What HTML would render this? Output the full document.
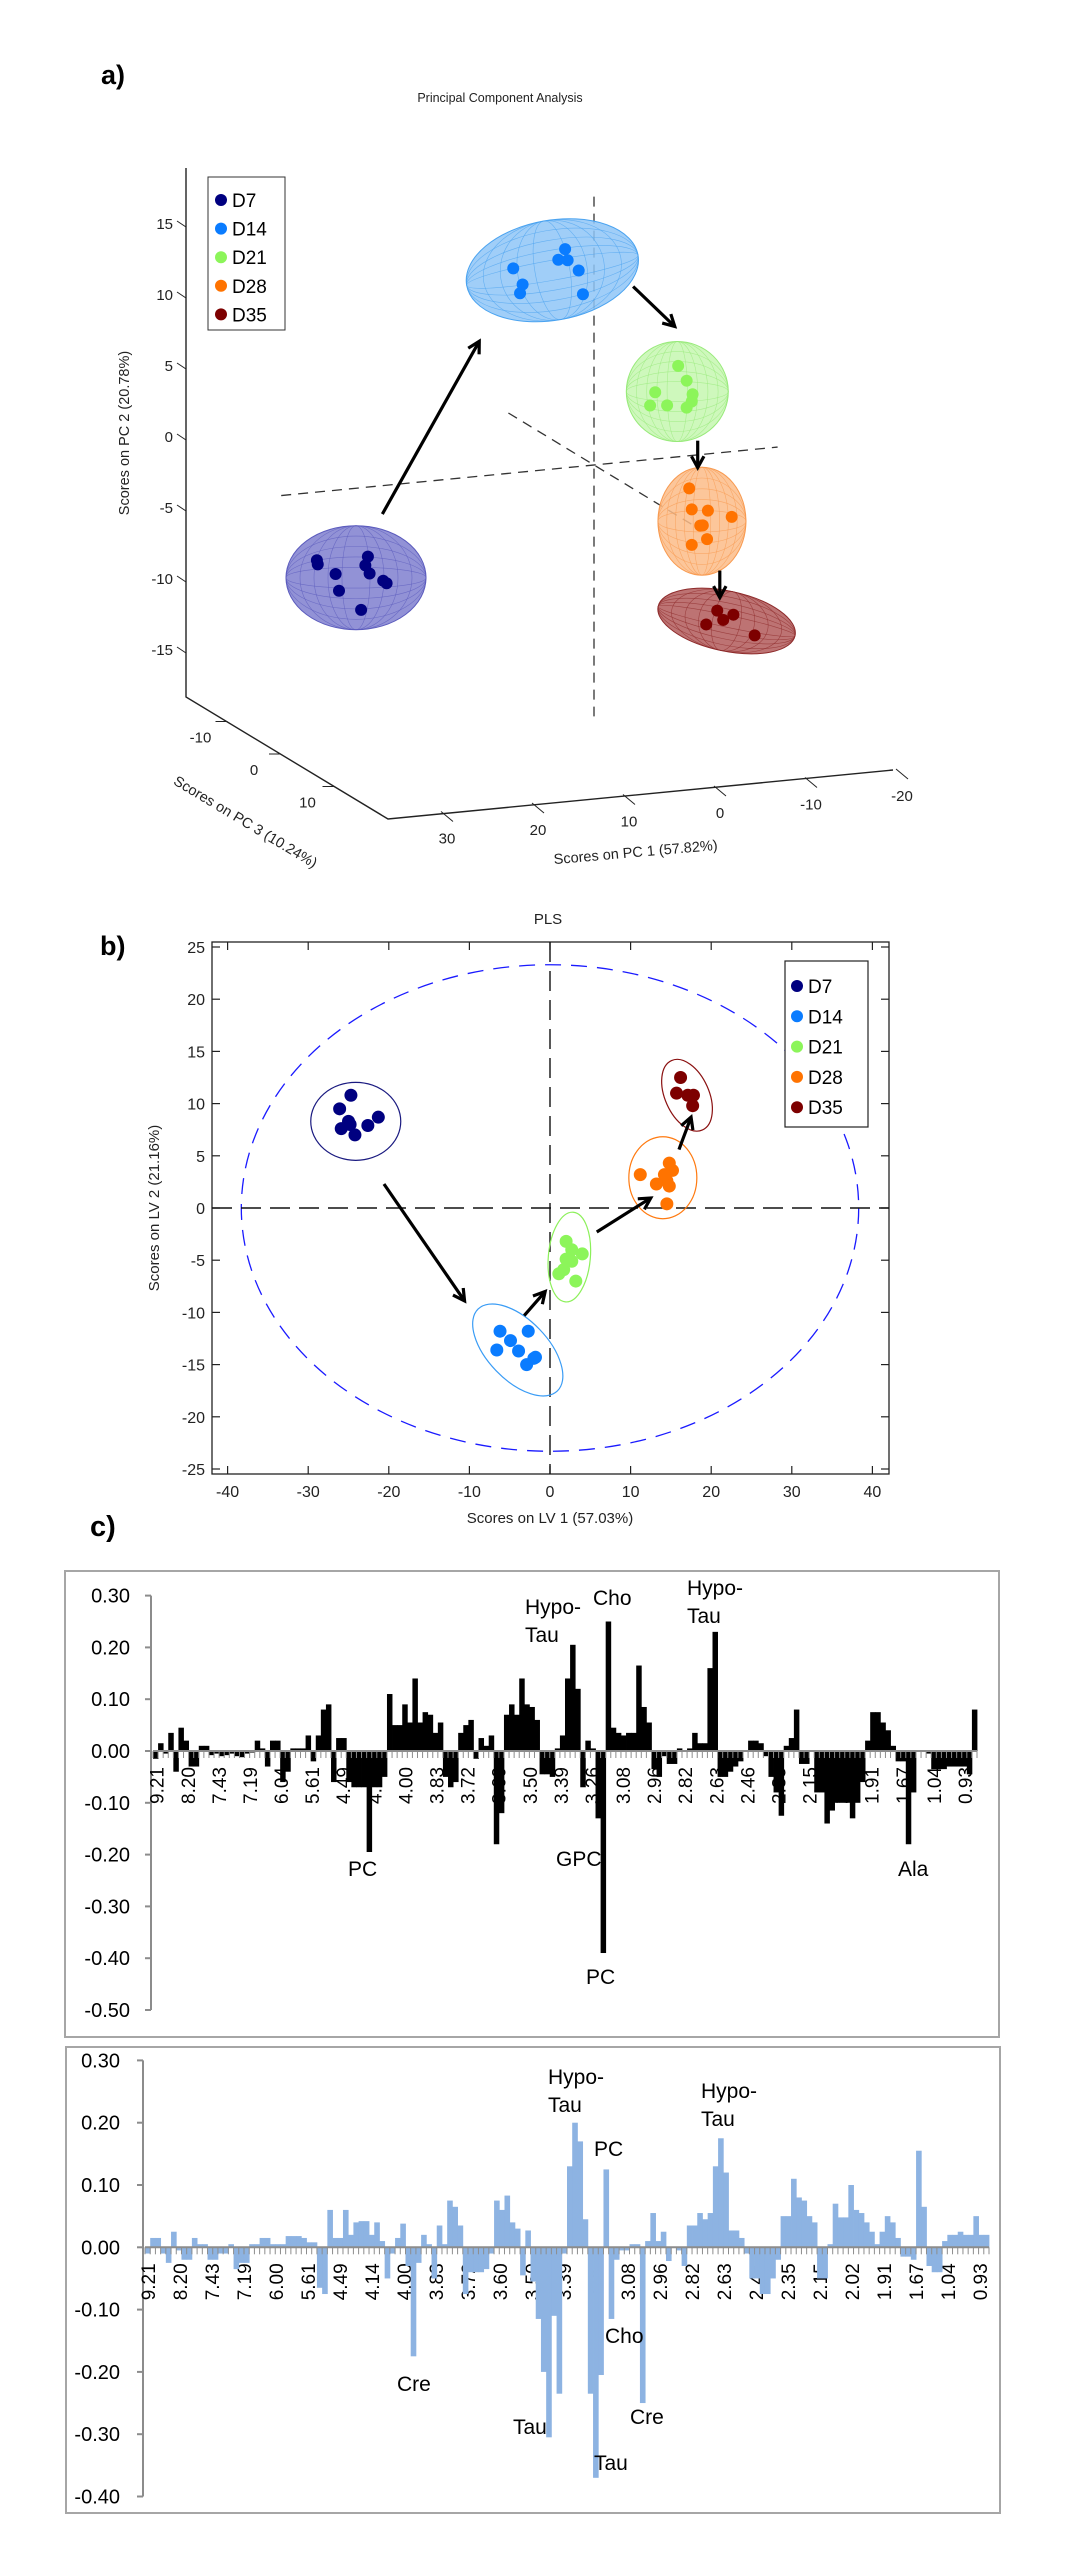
<!DOCTYPE html>
<html><head><meta charset="utf-8"><style>
html,body{margin:0;padding:0;background:#fff;}
svg{display:block;}
text{font-family:"Liberation Sans",Arial,sans-serif;}
</style></head><body>
<svg id="fig" xmlns="http://www.w3.org/2000/svg" width="1070" height="2553" viewBox="0 0 1070 2553">
<g id="pa"></g>
<g id="pb"></g>
<g id="pc"></g>
</svg>
<script>
// ---------- Panel a data (PC1, PC2 scores) ----------
const groups = ["D7","D14","D21","D28","D35"];
const groupColors = ["#000080","#0a7cff","#8cf55a","#ff7300","#7d0000"];
const pcaD7x  = [32.6,26.6,32.5,30.4,30.0,26.9,26.4,24.8,24.4,27.4];
const pcaD7y  = [-4.8,-4.9,-5.1,-5.9,-7.1,-5.5,-6.1,-6.7,-6.9,-8.6];
const pcaD14x = [9.5,8.4,8.7,3.4,4.2,3.1,1.8,1.3];
const pcaD14y = [14.4,13.2,12.6,15.4,14.7,14.6,13.8,12.1];
const pcaD21x = [-9.9,-10.9,-11.6,-11.5,-10.9,-7.2,-6.6,-8.6];
const pcaD21y = [6.4,5.3,4.3,3.8,3.4,4.7,3.8,3.7];
const pcaD28x = [-11.2,-11.5,-13.4,-16.2,-12.5,-13.3,-11.5,-12.8];
const pcaD28y = [-2.3,-3.8,-4.0,-4.6,-5.0,-6.0,-6.3,-5.0];
const pcaD35x = [-14.5,-15.2,-16.4,-13.2,-18.9];
const pcaD35y = [-11.1,-11.8,-11.5,-12.0,-13.1];
const pcaCentX = [28,4.9,-9.8,-12.7,-15.6];
const pcaCentY = [-6.3,14.0,4.6,-4.7,-11.9];
const pcaYTicks = [15,10,5,0,-5,-10,-15];
const pcaXTicks = [30,20,10,0,-10,-20];
const pcaZTicks = [-10,0,10];

// ---------- Panel b data (LV1, LV2 scores) ----------
const plsD7x  = [-24.7,-26.1,-25.0,-25.9,-24.2,-22.6,-21.3,-24.8];
const plsD7y  = [10.8,9.5,8.3,7.6,7.0,7.9,8.7,8.0];
const plsD14x = [-6.2,-2.7,-4.9,-3.9,-6.6,-2.0,-2.9,-1.8];
const plsD14y = [-11.8,-11.8,-12.7,-13.7,-13.6,-14.4,-15.0,-14.3];
const plsD21x = [2.0,2.7,4.0,2.0,1.7,1.1,3.2,2.7];
const plsD21y = [-3.2,-4.0,-4.4,-4.9,-5.9,-6.3,-7.0,-5.1];
const plsD28x = [11.2,14.8,15.2,14.5,13.2,14.8,14.5,14.2];
const plsD28y = [3.2,4.3,3.6,2.6,2.3,2.1,0.4,3.2];
const plsD35x = [16.2,15.7,17.1,17.8,17.7];
const plsD35y = [12.5,11.0,10.8,10.8,9.8];
const plsCentX = [-24.1,-4.0,2.4,14.0,17.0];
const plsCentY = [8.3,-13.6,-4.7,2.9,10.8];
const plsXTicks = [-40,-30,-20,-10,0,10,20,30,40];
const plsYTicks = [25,20,15,10,5,0,-5,-10,-15,-20,-25];

// ---------- Panel c data (loadings) ----------
const ppmLabelsTop = ["9.21","8.20","7.43","7.19","6.04","5.61","4.49","4.14","4.00","3.83","3.72","3.60","3.50","3.39","3.26","3.08","2.96","2.82","2.63","2.46","2.35","2.15","2.02","1.91","1.67","1.04","0.93"];
const ppmLabelsBot = ["9.21","8.20","7.43","7.19","6.00","5.61","4.49","4.14","4.00","3.83","3.72","3.60","3.50","3.39","3.26","3.08","2.96","2.82","2.63","2.46","2.35","2.15","2.02","1.91","1.67","1.04","0.93"];
const loadTopTicks = [0.30,0.20,0.10,0.00,-0.10,-0.20,-0.30,-0.40,-0.50];
const loadBotTicks = [0.30,0.20,0.10,0.00,-0.10,-0.20,-0.30,-0.40];
const loadTop = [-0.015,0.015,-0.005,0.035,-0.04,0.045,0.02,-0.03,-0.03,0.01,0.01,-0.008,-0.005,-0.01,-0.008,-0.005,-0.01,-0.012,-0.005,-0.003,
0.02,0.005,-0.03,0.02,0.02,-0.06,-0.04,0.005,0.005,0.005,0.03,-0.02,0.03,0.08,0.09,-0.06,0.025,0.025,-0.06,-0.07,
-0.07,-0.07,-0.195,-0.07,-0.07,-0.05,0.11,0.05,0.05,0.09,0.055,0.14,0.055,0.075,0.07,0.035,0.055,-0.05,-0.07,-0.06,
0.035,0.05,0.06,-0.015,0.025,0.01,0.03,-0.18,-0.12,0.07,0.09,0.07,0.14,0.09,0.085,0.06,-0.045,-0.045,-0.05,0.005,
0.03,0.14,0.205,0.12,-0.07,0.02,0.005,-0.13,-0.39,0.25,0.045,0.035,0.03,0.035,0.035,0.165,0.085,0.055,-0.035,-0.05,
-0.01,-0.025,-0.025,0.005,0,0.005,0.035,0.015,0.015,0.16,0.23,-0.05,-0.05,-0.04,-0.03,-0.02,0,0.02,0.02,0.015,
-0.01,-0.05,-0.08,-0.125,0.01,0.025,0.08,-0.025,-0.025,0,-0.08,-0.08,-0.14,-0.115,-0.1,-0.1,-0.1,-0.13,-0.1,-0.06,
0.02,0.075,0.075,0.055,0.04,0.01,-0.02,-0.02,-0.18,-0.08,0,0,-0.005,-0.035,-0.035,-0.035,-0.03,-0.03,-0.03,-0.03,
-0.045,0.08];
const loadBot = [-0.01,0.015,0.015,-0.01,-0.025,0.025,-0.005,-0.02,-0.02,0.015,0.005,0.005,-0.02,-0.02,-0.01,-0.01,0.005,-0.035,-0.025,-0.025,
0.005,0.005,0.015,0.015,0.005,0.005,0.005,0.018,0.018,0.018,0.015,0.008,0.008,-0.065,-0.075,0.06,0.015,0.015,0.06,0.02,
0.04,0.042,0.042,0.02,0.04,0.01,-0.05,-0.01,0.015,0.038,-0.03,-0.175,-0.025,0.02,0.005,-0.05,0.035,0.005,0.075,0.065,
0.035,-0.075,-0.04,-0.04,-0.04,-0.035,-0.01,0.075,0.06,0.083,0.04,0.03,-0.045,0.027,-0.055,-0.115,-0.2,-0.305,-0.11,-0.235,
-0.01,0.13,0.2,0.17,0.045,-0.235,-0.37,-0.205,0.125,-0.115,-0.02,-0.005,-0.005,0.005,0.005,-0.25,0.01,0.055,0.01,0.025,
-0.022,0,-0.005,-0.03,0.035,0.035,0.055,0.045,0.055,0.13,0.175,0.12,0.027,0.027,0.015,-0.01,-0.05,-0.05,-0.075,-0.075,
-0.05,-0.02,0.05,0.05,0.11,0.08,0.075,0.05,0.04,-0.05,-0.05,0.005,0.07,0.048,0.048,0.1,0.06,0.055,0.04,0.025,
0.005,0.025,0.05,0.04,0.015,-0.015,-0.015,-0.02,0.155,0.065,-0.03,-0.04,-0.04,0.01,0.02,0.02,0.025,0.02,0.02,0.05,
0.02,0.02];

const NS = "http://www.w3.org/2000/svg";
function mk(parent, tag, attrs, txt){
  const e = document.createElementNS(NS, tag);
  for (const k in attrs) e.setAttribute(k, attrs[k]);
  if (txt !== undefined) e.textContent = txt;
  parent.appendChild(e);
  return e;
}

// ================= PANEL A =================
(function(){
  const g = document.getElementById('pa');
  // projection of (pc1, pc2, pc3) to screen
  function px(p1, p2, p3){ return 594 - 8.5*p1 + 5.35*(p3||0); }
  function py(p1, p2, p3){ return 465 - 14.2*p2 + 0.83*p1 + 3.25*(p3||0); }

  let t = mk(g,'text',{x:101,y:84,'font-size':27,'font-weight':'bold'},'a)');
  
  
  t = mk(g,'text',{x:500,y:102,'font-size':12.5,'text-anchor':'middle',fill:'#222'},'Principal Component Analysis');
  
  

  // frame axes
  let ax = mk(g,'polyline',{points:'186,168 186,697 388,819 893,770',fill:'none',stroke:'#222','stroke-width':1.4});
  
  

  // y ticks
  pcaYTicks.forEach(v=>{
    const y = 437 - 14.2*v;
    let tk = mk(g,'line',{x1:177,y1:y-3,x2:186,y2:y+3,stroke:'#222','stroke-width':1});
    
    
    let lb = mk(g,'text',{x:173,y:y+5,'font-size':15,'text-anchor':'end',fill:'#222'},String(v));
    
    
  });
  let yl = mk(g,'text',{x:0,y:0,'font-size':14.5,'text-anchor':'middle',fill:'#222',transform:'translate(129,433) rotate(-90)'},'Scores on PC 2 (20.78%)');
  
  

  // PC3 ticks along left floor edge
  pcaZTicks.forEach(v=>{
    const x = 281 + 5.35*v, y = 755 + 3.25*v;
    let tk = mk(g,'line',{x1:x-12,y1:y-1,x2:x,y2:y-1,stroke:'#222','stroke-width':1});
    
    
    let lb = mk(g,'text',{x:x-27,y:y+20,'font-size':15,'text-anchor':'middle',fill:'#222'},String(v));
    
    
  });
  let zl = mk(g,'text',{x:0,y:0,'font-size':14.5,'text-anchor':'middle',fill:'#222',transform:'translate(243,826) rotate(31)'},'Scores on PC 3 (10.24%)');
  
  

  // PC1 ticks along floor front edge
  pcaXTicks.forEach(v=>{
    const x = 720 - 9.1*v + 6, y = 813 + 0.85*v - 21;
    let tk = mk(g,'line',{x1:x-12,y1:y-6,x2:x,y2:y+4,stroke:'#222','stroke-width':1});
    
    
    let lb = mk(g,'text',{x:720-9.1*v,y:813+0.85*v+5,'font-size':15,'text-anchor':'middle',fill:'#222'},String(v));
    
    
  });
  let xl = mk(g,'text',{x:0,y:0,'font-size':14.5,'text-anchor':'middle',fill:'#222',transform:'translate(636,857) rotate(-5)'},'Scores on PC 1 (57.82%)');
  
  

  // dashed reference axes
  const dash = {stroke:'#333','stroke-width':1.3,'stroke-dasharray':'10,7',fill:'none'};
  let d1 = mk(g,'line',Object.assign({x1:px(0,18.9),y1:py(0,18.9),x2:px(0,-17.7),y2:py(0,-17.7)},dash));
  
  
  let d2 = mk(g,'line',Object.assign({x1:px(36.8,0),y1:py(36.8,0),x2:px(-21.6,0),y2:py(-21.6,0)},dash));
  
  
  let d3 = mk(g,'line',Object.assign({x1:px(0,0,-16),y1:py(0,0,-16),x2:px(0,0,20),y2:py(0,0,20)},dash));
  
  

  // ellipsoids
  const fills = ['#7f7fcf','#8fc6f7','#c6f7b0','#fcbc88','#b25a5a'];
  const strokes = ['#5b5bbd','#4aa3f0','#98ea7a','#f89a50','#8e2b2b'];
  const rx = [70,87,51,44,70], ry = [52,50,50,54,30], rot = [0,-10,0,0,12];
  groups.forEach((name,i)=>{
    const cx = px(pcaCentX[i],pcaCentY[i]), cy = py(pcaCentX[i],pcaCentY[i]);
    const eg = mk(g,'g',{transform:`translate(${cx},${cy}) rotate(${rot[i]})`});
    
    
    mk(eg,'ellipse',{cx:0,cy:0,rx:rx[i],ry:ry[i],fill:fills[i],'fill-opacity':0.85,stroke:strokes[i],'stroke-width':1});
    for(let k=1;k<5;k++){
      mk(eg,'ellipse',{cx:0,cy:0,rx:rx[i]*k/5,ry:ry[i],fill:'none',stroke:strokes[i],'stroke-width':0.6,'stroke-opacity':0.7});
      mk(eg,'ellipse',{cx:0,cy:0,rx:rx[i],ry:ry[i]*k/5,fill:'none',stroke:strokes[i],'stroke-width':0.6,'stroke-opacity':0.7});
    }
  });
  // points
  const xs=[pcaD7x,pcaD14x,pcaD21x,pcaD28x,pcaD35x], ys=[pcaD7y,pcaD14y,pcaD21y,pcaD28y,pcaD35y];
  groups.forEach((name,i)=>{
    xs[i].forEach((v,j)=>{
      const c = mk(g,'circle',{cx:px(v,ys[i][j]),cy:py(v,ys[i][j]),r:6,fill:groupColors[i]});
      
      
    });
  });
  // arrows
  const arrowFrom1 = [24.9,-4.6,-12.2,-14.8], arrowFrom2 = [-2.0,12.3,1.0,-8.3];
  const arrowTo1 = [13.5,-9.5,-12.2,-14.8], arrowTo2 = [9.5,9.2,-0.9,-10.2];
  arrowFrom1.forEach((v,i)=>{
    const x1=px(v,arrowFrom2[i]), y1=py(v,arrowFrom2[i]), x2=px(arrowTo1[i],arrowTo2[i]), y2=py(arrowTo1[i],arrowTo2[i]);
    const a=Math.atan2(y2-y1,x2-x1), h=13;
    const ag = mk(g,'g',{});
    
    
    mk(ag,'line',{x1,y1,x2,y2,stroke:'#000','stroke-width':3.2});
    mk(ag,'polyline',{points:`${x2-h*Math.cos(a-0.5)},${y2-h*Math.sin(a-0.5)} ${x2},${y2} ${x2-h*Math.cos(a+0.5)},${y2-h*Math.sin(a+0.5)}`,fill:'none',stroke:'#000','stroke-width':3.2});
  });
  // legend
  const lg = mk(g,'g',{});
  
  
  mk(lg,'rect',{x:208,y:177,width:77,height:153,fill:'#fff',stroke:'#333','stroke-width':1});
  groups.forEach((name,i)=>{
    const y = 200 + i*28.6;
    const e = mk(lg,'g',{});
    
    
    mk(e,'circle',{cx:221,cy:y,r:6,fill:groupColors[i]});
    mk(e,'text',{x:232,y:y+7,'font-size':19},name);
  });
})();

// ================= PANEL B =================
(function(){
  const g = document.getElementById('pb');
  const xb = v => 550 + 8.06*v;
  const yb = v => 1208 - 10.44*v;
  let t = mk(g,'text',{x:100,y:955,'font-size':27,'font-weight':'bold'},'b)');
  
  
  t = mk(g,'text',{x:548,y:924,'font-size':15,'text-anchor':'middle',fill:'#222'},'PLS');
  
  
  const box = mk(g,'rect',{x:212,y:942,width:677,height:532,fill:'#fff',stroke:'#222','stroke-width':1.3});
  
  
  plsXTicks.forEach(v=>{
    const x = xb(v);
    let a = mk(g,'line',{x1:x,y1:1474,x2:x,y2:1466,stroke:'#222','stroke-width':1.2});
    
    
    let b = mk(g,'line',{x1:x,y1:942,x2:x,y2:950,stroke:'#222','stroke-width':1.2});
    
    
    let l = mk(g,'text',{x:x,y:1497,'font-size':16,'text-anchor':'middle',fill:'#222'},String(v));
    
    
  });
  plsYTicks.forEach(v=>{
    const y = yb(v);
    let a = mk(g,'line',{x1:212,y1:y,x2:220,y2:y,stroke:'#222','stroke-width':1.2});
    
    
    let b = mk(g,'line',{x1:889,y1:y,x2:881,y2:y,stroke:'#222','stroke-width':1.2});
    
    
    let l = mk(g,'text',{x:205,y:y+6,'font-size':16,'text-anchor':'end',fill:'#222'},String(v));
    
    
  });
  t = mk(g,'text',{x:550,y:1523,'font-size':15,'text-anchor':'middle',fill:'#222'},'Scores on LV 1 (57.03%)');
  
  
  t = mk(g,'text',{x:0,y:0,'font-size':15,'text-anchor':'middle',fill:'#222',transform:'translate(159,1208) rotate(-90)'},'Scores on LV 2 (21.16%)');
  
  
  // Hotelling ellipse and zero lines
  let he = mk(g,'ellipse',{cx:xb(0),cy:yb(0),rx:38.3*8.06,ry:23.3*10.44,fill:'none',stroke:'#1a1aff','stroke-width':1.3,'stroke-dasharray':'16,10'});
  
  
  let z1 = mk(g,'line',{x1:212,y1:yb(0),x2:889,y2:yb(0),stroke:'#111','stroke-width':1.4,'stroke-dasharray':'20,9'});
  
  
  let z2 = mk(g,'line',{x1:xb(0),y1:942,x2:xb(0),y2:1474,stroke:'#111','stroke-width':1.4,'stroke-dasharray':'20,9'});
  
  
  // group ellipses
  const erx=[45,57,21,34,22], ery=[39,30,45,41,38], erot=[0,46,5,0,-24];
  const ecol=['#1a1a80','#3a9cf5','#8cf05a','#ff7a10','#8a1010'];
  groups.forEach((name,i)=>{
    const e = mk(g,'ellipse',{cx:0,cy:0,rx:erx[i],ry:ery[i],fill:'none',stroke:ecol[i],'stroke-width':1.2,transform:`translate(${xb(plsCentX[i])},${yb(plsCentY[i])}) rotate(${erot[i]})`});
    
    
  });
  const xs=[plsD7x,plsD14x,plsD21x,plsD28x,plsD35x], ys=[plsD7y,plsD14y,plsD21y,plsD28y,plsD35y];
  groups.forEach((name,i)=>{
    xs[i].forEach((v,j)=>{
      const c = mk(g,'circle',{cx:xb(v),cy:yb(ys[i][j]),r:6.5,fill:groupColors[i]});
      
      
    });
  });
  const afx=[-20.6,-3.2,5.8,16.0], afy=[2.3,-10.3,-2.3,5.6], atx=[-10.6,-0.6,12.5,17.5], aty=[-8.9,-8.0,0.96,8.7];
  afx.forEach((v,i)=>{
    const x1=xb(v), y1=yb(afy[i]), x2=xb(atx[i]), y2=yb(aty[i]);
    const a=Math.atan2(y2-y1,x2-x1), h=13;
    const ag = mk(g,'g',{});
    
    
    mk(ag,'line',{x1,y1,x2,y2,stroke:'#000','stroke-width':3.2});
    mk(ag,'polyline',{points:`${x2-h*Math.cos(a-0.5)},${y2-h*Math.sin(a-0.5)} ${x2},${y2} ${x2-h*Math.cos(a+0.5)},${y2-h*Math.sin(a+0.5)}`,fill:'none',stroke:'#000','stroke-width':3.2});
  });
  const lg = mk(g,'g',{});
  
  
  mk(lg,'rect',{x:785,y:961,width:83,height:166,fill:'#fff',stroke:'#222','stroke-width':1.2});
  groups.forEach((name,i)=>{
    const y = 986 + i*30.3;
    const e = mk(lg,'g',{});
    
    
    mk(e,'circle',{cx:797,cy:y,r:6,fill:groupColors[i]});
    mk(e,'text',{x:808,y:y+7,'font-size':19},name);
  });
})();

// ================= PANEL C =================
(function(){
  const g = document.getElementById('pc');
  let t = mk(g,'text',{x:90,y:1536,'font-size':29,'font-weight':'bold'},'c)');
  
  

  function chart(cfg){
    const cg = mk(g,'g',{});
    
    
    mk(cg,'rect',{x:cfg.box[0],y:cfg.box[1],width:cfg.box[2],height:cfg.box[3],fill:'#fff',stroke:'#a6a6a6','stroke-width':2});
    const yv = v => cfg.zero - cfg.k*v;
    const n = cfg.vals.length, w = cfg.span/n;
    const xi = i => cfg.x0 + i*w;
    // y axis
    mk(cg,'line',{x1:cfg.ax,y1:yv(cfg.ticks[0]),x2:cfg.ax,y2:yv(cfg.ticks[cfg.ticks.length-1]),stroke:'#8c8c8c','stroke-width':2});
    cfg.ticks.forEach(v=>{
      const tk = mk(cg,'line',{x1:cfg.ax-6,y1:yv(v),x2:cfg.ax,y2:yv(v),stroke:'#8c8c8c','stroke-width':2});
      
      
      const lb = mk(cg,'text',{x:cfg.labX,y:yv(v)+7,'font-size':20,'text-anchor':'end'},v.toFixed(2));
      
      
    });
    // x labels
    cfg.xlabels.forEach((s,k)=>{
      const x = cfg.lab0 + k*(cfg.lab1-cfg.lab0)/(cfg.xlabels.length-1);
      const lb = mk(cg,'text',{x:0,y:0,'font-size':19,'text-anchor':'end',transform:`translate(${x+7},${cfg.zero+16}) rotate(-90)`},s);
      
      
    });
    // bars
    cfg.vals.forEach((v,i)=>{
      const y1 = yv(Math.max(v,0)), h = Math.abs(yv(v)-cfg.zero);
      const r = mk(cg,'rect',{x:xi(i),y:y1,width:w+0.4,height:Math.max(h,0.5),fill:cfg.color});
      
      
    });
    // x axis with minor ticks
    mk(cg,'line',{x1:cfg.x0,y1:cfg.zero,x2:cfg.x0+cfg.span,y2:cfg.zero,stroke:'#8c8c8c','stroke-width':2});
    for(let i=0;i<=n;i++){
      mk(cg,'line',{x1:xi(i),y1:cfg.zero,x2:xi(i),y2:cfg.zero+7,stroke:'#8c8c8c','stroke-width':1});
    }
    cfg.peaks.forEach(p=>{
      const lb = mk(cg,'text',{x:p[0],y:p[1],'font-size':21},p[2]);
      
      
    });
  }
  chart({name:'loading-chart-top',box:[65,1571,934,466],zero:1751,k:518,x0:153,span:824,vals:loadTop,color:'#000',
    ax:151,labX:130,ticks:loadTopTicks,xlabels:ppmLabelsTop,lab0:156.7,lab1:965,
    peaks:[[525,1614,'Hypo-'],[525,1642,'Tau'],[593,1605,'Cho'],[687,1595,'Hypo-'],[687,1623,'Tau'],[348,1876,'PC'],[556,1866,'GPC'],[586,1984,'PC'],[898,1876,'Ala']]});
  chart({name:'loading-chart-bottom',box:[66,2047,934,466],zero:2247.3,k:623,x0:145,span:844,vals:loadBot,color:'#8db3e2',
    ax:143,labX:120,ticks:loadBotTicks,xlabels:ppmLabelsBot,lab0:148,lab1:980,
    peaks:[[548,2084,'Hypo-'],[548,2112,'Tau'],[594,2156,'PC'],[701,2098,'Hypo-'],[701,2126,'Tau'],[397,2391,'Cre'],[513,2434,'Tau'],[605,2343,'Cho'],[630,2424,'Cre'],[594,2470,'Tau']]});
})();
</script>
</body></html>
